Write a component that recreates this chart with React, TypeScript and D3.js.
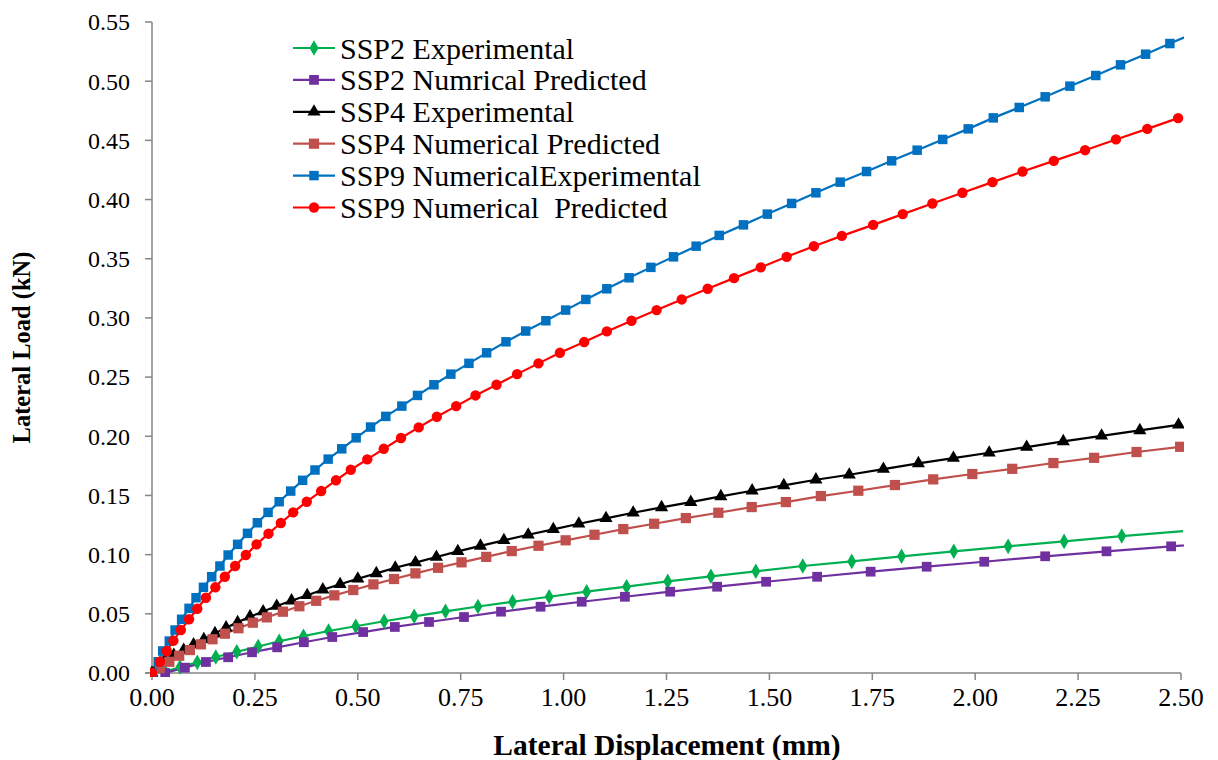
import React from 'react';
import * as d3 from 'd3';

type Pt = [number, number];

// lateral displacement (mm), lateral load (kN)
const ssp2Exp: Pt[] = [
  [0, 0], [0.032, 0.001], [0.068, 0.005], [0.110, 0.009], [0.155, 0.0135], [0.206, 0.018],
  [0.258, 0.0224], [0.309, 0.0268], [0.368, 0.0311], [0.429, 0.0355], [0.495, 0.0395],
  [0.564, 0.0437], [0.637, 0.0479], [0.713, 0.0521], [0.792, 0.0562], [0.876, 0.0602],
  [0.965, 0.0644], [1.056, 0.0687], [1.153, 0.0729], [1.253, 0.0774], [1.358, 0.0817],
  [1.467, 0.0859], [1.581, 0.0904], [1.700, 0.0943], [1.821, 0.0986], [1.948, 0.1028],
  [2.080, 0.1070], [2.216, 0.1112], [2.356, 0.1157], [2.505, 0.1199],
];
const ssp2Num: Pt[] = [
  [0.032, 0], [0.080, 0.0045], [0.131, 0.0093], [0.185, 0.0133], [0.243, 0.0175], [0.304, 0.0217],
  [0.369, 0.026], [0.438, 0.0304], [0.513, 0.0346], [0.590, 0.0389], [0.673, 0.0431],
  [0.758, 0.0473], [0.848, 0.0518], [0.944, 0.056], [1.044, 0.0602], [1.149, 0.0644],
  [1.259, 0.0687], [1.373, 0.0729], [1.492, 0.0771], [1.616, 0.0813], [1.746, 0.0856],
  [1.882, 0.0898], [2.022, 0.094], [2.170, 0.0986], [2.319, 0.1028], [2.476, 0.107], [2.636, 0.1112],
];
const ssp4Exp: Pt[] = [
  [0, 0], [0.015, 0.0059], [0.032, 0.011], [0.053, 0.0152], [0.077, 0.0194], [0.101, 0.0241],
  [0.126, 0.0285], [0.153, 0.0335], [0.180, 0.0383], [0.208, 0.0428], [0.238, 0.0476],
  [0.270, 0.0519], [0.303, 0.0566], [0.339, 0.0611], [0.377, 0.0657], [0.415, 0.0704],
  [0.457, 0.075], [0.500, 0.0796], [0.545, 0.0842], [0.591, 0.0889], [0.640, 0.0933],
  [0.691, 0.098], [0.743, 0.1028], [0.798, 0.1074], [0.855, 0.1121], [0.914, 0.1168],
  [0.975, 0.1214], [1.037, 0.1261], [1.103, 0.1307], [1.169, 0.1354], [1.238, 0.1399],
  [1.309, 0.1444], [1.382, 0.1492], [1.458, 0.154], [1.535, 0.1585], [1.613, 0.1633],
  [1.694, 0.1675], [1.777, 0.1723], [1.862, 0.1771], [1.947, 0.1816], [2.034, 0.1861],
  [2.125, 0.1909], [2.214, 0.1957], [2.307, 0.2004], [2.400, 0.205], [2.494, 0.2097],
];
const ssp4Num: Pt[] = [
  [0, 0], [0.019, 0.0042], [0.042, 0.0095], [0.066, 0.0146], [0.092, 0.0194], [0.119, 0.0242],
  [0.147, 0.0285], [0.177, 0.0332], [0.210, 0.0378], [0.245, 0.0425], [0.279, 0.047],
  [0.318, 0.0518], [0.358, 0.0564], [0.399, 0.061], [0.443, 0.0656], [0.489, 0.0701],
  [0.538, 0.0749], [0.588, 0.0794], [0.640, 0.0842], [0.695, 0.0889], [0.752, 0.0935],
  [0.812, 0.0981], [0.874, 0.103], [0.939, 0.1075], [1.005, 0.1121], [1.075, 0.1168],
  [1.145, 0.1216], [1.220, 0.1261], [1.297, 0.1309], [1.376, 0.1354], [1.457, 0.1402],
  [1.540, 0.1444], [1.625, 0.1495], [1.716, 0.154], [1.805, 0.1588], [1.898, 0.1636],
  [1.993, 0.1681], [2.090, 0.1725], [2.190, 0.1774], [2.289, 0.1818], [2.392, 0.1867], [2.498, 0.1911],
];
const ssp9Exp: Pt[] = [
  [0, 0], [0.015, 0.0095], [0.026, 0.0186], [0.042, 0.027], [0.056, 0.0363], [0.072, 0.0454],
  [0.090, 0.0546], [0.107, 0.0636], [0.125, 0.0724], [0.145, 0.0813], [0.165, 0.0904],
  [0.185, 0.0997], [0.208, 0.1087], [0.232, 0.118], [0.256, 0.1269], [0.282, 0.1357],
  [0.309, 0.1447], [0.337, 0.1537], [0.366, 0.1628], [0.396, 0.1715], [0.428, 0.1807],
  [0.461, 0.1894], [0.496, 0.1987], [0.531, 0.2078], [0.568, 0.2168], [0.607, 0.2255],
  [0.645, 0.2345], [0.685, 0.2435], [0.726, 0.2525], [0.770, 0.2616], [0.813, 0.2705],
  [0.860, 0.2798], [0.908, 0.2889], [0.957, 0.2976], [1.005, 0.3066], [1.054, 0.3156],
  [1.105, 0.3246], [1.159, 0.3339], [1.212, 0.3427], [1.267, 0.3516], [1.322, 0.3606],
  [1.378, 0.3697], [1.437, 0.3786], [1.495, 0.3877], [1.554, 0.3967], [1.613, 0.4057],
  [1.672, 0.4147], [1.736, 0.4237], [1.797, 0.4327], [1.859, 0.4417], [1.921, 0.4508],
  [1.983, 0.4597], [2.044, 0.469], [2.107, 0.4778], [2.170, 0.4868], [2.230, 0.4958],
  [2.293, 0.5048], [2.353, 0.5138], [2.414, 0.5228], [2.473, 0.5318], [2.534, 0.5409],
];
const ssp9Num: Pt[] = [
  [0, 0], [0.019, 0.0095], [0.036, 0.0186], [0.052, 0.0273], [0.070, 0.0363], [0.090, 0.0454],
  [0.110, 0.0543], [0.131, 0.0636], [0.154, 0.0724], [0.177, 0.0813], [0.202, 0.0904],
  [0.228, 0.0997], [0.254, 0.1087], [0.283, 0.1177], [0.313, 0.1267], [0.343, 0.1357],
  [0.376, 0.1447], [0.411, 0.1537], [0.447, 0.1628], [0.483, 0.1717], [0.523, 0.1805],
  [0.563, 0.1894], [0.605, 0.1985], [0.648, 0.2075], [0.692, 0.2165], [0.739, 0.2255],
  [0.786, 0.2345], [0.837, 0.2435], [0.887, 0.2525], [0.939, 0.2616], [0.991, 0.2705],
  [1.050, 0.2796], [1.105, 0.2886], [1.165, 0.2976], [1.226, 0.3066], [1.287, 0.3156],
  [1.350, 0.3246], [1.414, 0.3336], [1.479, 0.3427], [1.542, 0.3516], [1.608, 0.3606],
  [1.676, 0.3693], [1.752, 0.3786], [1.824, 0.3877], [1.896, 0.3967], [1.969, 0.4057],
  [2.042, 0.4147], [2.115, 0.4237], [2.191, 0.4327], [2.267, 0.4417], [2.342, 0.4508],
  [2.418, 0.4597], [2.493, 0.4688],
];

const xTicks = [0, 0.25, 0.5, 0.75, 1, 1.25, 1.5, 1.75, 2, 2.25, 2.5];
const yTicks = [0, 0.05, 0.1, 0.15, 0.2, 0.25, 0.3, 0.35, 0.4, 0.45, 0.5, 0.55];

const series = [
  { name: 'SSP2 Experimental', data: ssp2Exp, color: '#00B050', shape: d3.symbolDiamond, size: 70 },
  { name: 'SSP2 Numrical Predicted', data: ssp2Num, color: '#7030A0', shape: d3.symbolSquare, size: 95 },
  { name: 'SSP4 Experimental', data: ssp4Exp, color: '#000000', shape: d3.symbolTriangle, size: 75 },
  { name: 'SSP4 Numerical Predicted', data: ssp4Num, color: '#C0504D', shape: d3.symbolSquare, size: 105 },
  { name: 'SSP9 NumericalExperimental', data: ssp9Exp, color: '#0070C0', shape: d3.symbolSquare, size: 90 },
  { name: 'SSP9 Numerical  Predicted', data: ssp9Num, color: '#FF0000', shape: d3.symbolCircle, size: 85 },
];

const W = 1218;
const H = 760;
const serif = '"Liberation Serif", "Times New Roman", serif';
const axisColor = '#868686';

export default function App() {
  const x = d3.scaleLinear().domain([0, 2.5]).range([152, 1181]);
  const y = d3.scaleLinear().domain([0, 0.55]).range([673, 22]);
  const line = d3.line<Pt>().x(d => x(d[0])).y(d => y(d[1]));

  const legendX = 293;
  const legendY = 48;
  const legendStep = 31.9;

  return (
    <svg width={W} height={H} style={{ position: 'absolute', left: 0, top: 0, background: '#fff' }}>
      <defs>
        <clipPath id="plot">
          <rect x={150} y={15} width={1034} height={662} />
        </clipPath>
      </defs>

      {/* axes */}
      <line x1={x(0)} x2={x(0)} y1={y(0.55)} y2={y(0)} stroke={axisColor} strokeWidth={1.5} />
      <line x1={x(0) - 7} x2={x(2.5)} y1={y(0)} y2={y(0)} stroke={axisColor} strokeWidth={1.5} />
      {yTicks.map(t => (
        <g key={'y' + t}>
          <line x1={x(0) - 7} x2={x(0)} y1={y(t)} y2={y(t)} stroke={axisColor} strokeWidth={1.5} />
          <text x={130} y={y(t)} dy="0.35em" textAnchor="end" fontFamily={serif} fontSize={24} fill="#000">
            {d3.format('.2f')(t)}
          </text>
        </g>
      ))}
      {xTicks.map(t => (
        <g key={'x' + t}>
          <line x1={x(t)} x2={x(t)} y1={y(0)} y2={y(0) + 7} stroke={axisColor} strokeWidth={1.5} />
          <text x={x(t)} y={706} textAnchor="middle" fontFamily={serif} fontSize={26} fill="#000">
            {d3.format('.2f')(t)}
          </text>
        </g>
      ))}

      {/* axis titles */}
      <text x={667} y={755} textAnchor="middle" fontFamily={serif} fontSize={29.5} fontWeight="bold">
        Lateral Displacement (mm)
      </text>
      <text transform={`translate(30, ${y(0.275)}) rotate(-90)`} textAnchor="middle" fontFamily={serif}
        fontSize={24.5} fontWeight="bold">
        Lateral Load (kN)
      </text>

      {/* series */}
      <g clipPath="url(#plot)">
        {series.map(s => (
          <path key={s.name} d={line(s.data) ?? ''} fill="none" stroke={s.color} strokeWidth={2.2} />
        ))}
        {series.map(s => (
          <g key={s.name + 'm'}>
            {s.data.filter(d => d[0] <= 2.5).map((d, i) => (
              <path key={i} transform={`translate(${x(d[0])},${y(d[1])})`}
                d={d3.symbol().type(s.shape).size(s.size)() ?? ''} fill={s.color} />
            ))}
          </g>
        ))}
      </g>

      {/* legend */}
      {series.map((s, i) => (
        <g key={'l' + s.name} transform={`translate(${legendX}, ${legendY + i * legendStep})`}>
          <line x1={0} x2={42} y1={0} y2={0} stroke={s.color} strokeWidth={2.2} />
          <path transform="translate(21,0)" d={d3.symbol().type(s.shape).size(s.size)() ?? ''} fill={s.color} />
          <text x={47} y={0} dy="0.35em" fontFamily={serif} fontSize={30} fill="#000"
            style={{ whiteSpace: 'pre' }}>{s.name}</text>
        </g>
      ))}
    </svg>
  );
}
